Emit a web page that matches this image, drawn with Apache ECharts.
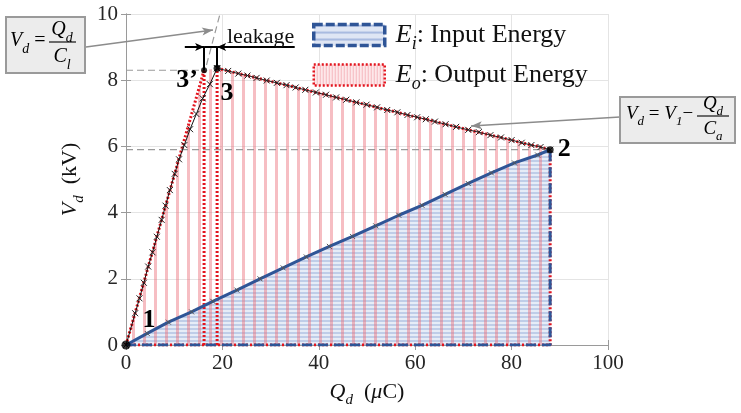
<!DOCTYPE html>
<html><head><meta charset="utf-8">
<script src="https://cdn.jsdelivr.net/npm/echarts@6/dist/echarts.min.js"></script>
<style>html,body{margin:0;padding:0;background:#fff}#c{width:741px;height:413px}</style>
</head><body><div id="c"></div>
<script>
// ---------------- data ----------------
const xTicks = [0, 20, 40, 60, 80, 100];
const yTicks = [0, 2, 4, 6, 8, 10];
// input-energy boundary (state 1 -> state 2)
const inputQ = [0, 4.4, 8.8, 13.6, 18.0, 23.0, 27.8, 32.6, 37.4, 42.2, 47.0, 51.8, 56.6, 61.4, 66.2, 71.0, 75.8, 80.6, 85.4, 88.0];
const inputV = [0, 0.35, 0.69, 1.0, 1.32, 1.66, 2.0, 2.33, 2.66, 2.98, 3.28, 3.6, 3.92, 4.22, 4.55, 4.88, 5.2, 5.5, 5.74, 5.9];
// charging curve with leakage (state 1 -> state 3)
const leakQ = [0, 1.9, 2.8, 3.7, 4.6, 5.5, 6.4, 7.4, 8.2, 9.1, 10.1, 11.0, 12.1, 13.3, 14.6, 15.9, 17.4, 18.9];
const leakV = [0, 0.96, 1.41, 1.88, 2.37, 2.8, 3.27, 3.78, 4.21, 4.68, 5.17, 5.61, 6.04, 6.52, 6.98, 7.45, 7.88, 8.36];
// ideal charging line (state 1 -> state 3')
const idealQ = [0, 16.2];
const idealV = [0, 8.3];
// discharge curve (state 3 -> state 2)
const topQ = [18.9, 21.2, 23.3, 25.2, 27.1, 29.2, 31.3, 33.3, 35.2, 37.2, 39.4, 41.5, 43.6, 45.7, 47.8, 49.9, 52.1, 54.2, 56.3, 58.4, 60.4, 62.2, 64.1, 66.3, 68.5, 71.0, 73.2, 75.6, 77.8, 80.0, 82.1, 84.1, 86.0, 88.0];
const topV = [8.36, 8.28, 8.20, 8.14, 8.07, 7.99, 7.92, 7.85, 7.78, 7.71, 7.63, 7.56, 7.48, 7.41, 7.33, 7.26, 7.18, 7.10, 7.03, 6.95, 6.88, 6.82, 6.75, 6.67, 6.59, 6.50, 6.43, 6.34, 6.27, 6.19, 6.11, 6.04, 5.98, 5.90];
// states
const stateNames = ['1', '3\u2019', '3', '2'];
const stateQ = [0, 16.2, 18.9, 88];
const stateV = [0, 8.3, 8.36, 5.9];
// leakage dimension line and extension of Vd = Qd/Cl
const leakArrowV = 9.0;
const leakArrowQ = [12.2, 35.0];
const extQ = [16.7, 19.5];
const extV = [8.46, 10];

// ---------------- styles ----------------
const FONT = 'Liberation Serif';
const RED = '#e3141e', BLUE = '#2f5597', GRAY = '#8c8c8c';
function pattern(w, h, draw) {
  const c = document.createElement('canvas'); c.width = w; c.height = h;
  draw(c.getContext('2d')); return { image: c, repeat: 'repeat' };
}
const bluePat = pattern(4, 4, g => { g.fillStyle = '#e6ecf7'; g.fillRect(0, 0, 4, 4); g.fillStyle = '#bfcde8'; g.fillRect(0, 0, 4, 2); });
const pinkPat = pattern(11, 4, g => { g.fillStyle = 'rgba(236,110,122,0.45)'; g.fillRect(0, 0, 3, 4); });
const legBlue = pattern(4, 7, g => { g.fillStyle = '#dfe6f4'; g.fillRect(0, 0, 4, 7); g.fillStyle = '#a9bbe0'; g.fillRect(0, 0, 4, 2); });
const legPink = pattern(3, 4, g => { g.fillStyle = '#fde8ea'; g.fillRect(0, 0, 3, 4); g.fillStyle = '#f6b9be'; g.fillRect(0, 0, 1, 4); });

const pts = (qs, vs) => qs.map((q, i) => [q, vs[i]]);
const cross = 'path://M0,0L10,10M10,0L0,10';
const richBase = (size) => ({
  i: { fontFamily: FONT, fontStyle: 'italic', fontSize: size, lineHeight: size + 10, color: '#111' },
  s: { fontFamily: FONT, fontStyle: 'italic', fontSize: Math.round(size * 0.68), verticalAlign: 'bottom', color: '#111' },
  n: { fontFamily: FONT, fontSize: size, lineHeight: size + 10, color: '#111' }
});

const outArea = [[stateQ[0], stateV[0]], [stateQ[1], stateV[1]]].concat(pts(topQ, topV));
const corner = [[stateQ[0], 0], [stateQ[3], 0], [stateQ[3], stateV[3]]];

const labelOffsets = [[23, -25], [-17, 10], [10, 25], [14, 0]];
const dotSizes = [9, 6, 7, 7];

const lineS = (data, color, width, type, z, extra) => Object.assign({
  type: 'line', data, symbol: 'none', silent: true, z,
  lineStyle: { color, width, type }, animation: false
}, extra || {});

const option = {
  animation: false,
  grid: { left: 126, top: 14, right: 133, bottom: 68, show: false },
  xAxis: [{
    type: 'value', min: xTicks[0], max: xTicks[xTicks.length - 1], interval: xTicks[1] - xTicks[0],
    axisLine: { show: true, lineStyle: { color: '#9a9a9a' } },
    axisTick: { show: true, inside: true, length: 5, lineStyle: { color: '#9a9a9a' } },
    axisLabel: { fontFamily: FONT, fontSize: 21, color: '#262626', margin: 8 },
    splitLine: { show: true, lineStyle: { color: '#e4e4e4' } },
    name: '{i|Q}{s|d}{n|  (}{i|\u03bc}{n|C)}', nameLocation: 'middle', nameGap: 31,
    nameTextStyle: { rich: richBase(22) }
  }, {
    type: 'value', position: 'top', min: xTicks[0], max: xTicks[xTicks.length - 1], interval: xTicks[1] - xTicks[0],
    axisLine: { show: true, lineStyle: { color: '#9a9a9a' } },
    axisTick: { show: true, inside: true, length: 5, lineStyle: { color: '#9a9a9a' } },
    axisLabel: { show: false }, splitLine: { show: false }
  }],
  yAxis: [{
    type: 'value', min: yTicks[0], max: yTicks[yTicks.length - 1], interval: yTicks[1] - yTicks[0],
    axisLine: { show: true, lineStyle: { color: '#9a9a9a' } },
    axisTick: { show: true, inside: true, length: 5, lineStyle: { color: '#9a9a9a' } },
    axisLabel: { fontFamily: FONT, fontSize: 21, color: '#262626', margin: 8 },
    splitLine: { show: true, lineStyle: { color: '#e4e4e4' } },
    name: '{i|V}{s|d}{n|  (kV)}', nameLocation: 'middle', nameGap: 33,
    nameTextStyle: { rich: richBase(22) }
  }, {
    type: 'value', position: 'right', min: yTicks[0], max: yTicks[yTicks.length - 1], interval: yTicks[1] - yTicks[0],
    axisLine: { show: true, lineStyle: { color: '#9a9a9a' } },
    axisTick: { show: true, inside: true, length: 5, lineStyle: { color: '#9a9a9a' } },
    axisLabel: { show: false }, splitLine: { show: false }
  }],
  legend: {
    orient: 'vertical', left: 312, top: 22, itemWidth: 71, itemHeight: 21, itemGap: 9, padding: 0,
    selectedMode: false,
    data: [
      { name: 'Ei', icon: 'rect', itemStyle: { color: legBlue, borderColor: BLUE, borderWidth: 3.5, borderType: [9, 3] } },
      { name: 'Eo', icon: 'rect', itemStyle: { color: legPink, borderColor: RED, borderWidth: 2.5, borderType: [2, 2] } }
    ],
    formatter: n => n === 'Ei' ? '{i|E}{s|i}{n|: Input Energy}' : '{i|E}{s|o}{n|: Output Energy}',
    textStyle: { padding: [0, 0, 0, 6], rich: richBase(26) }
  },
  series: [
    // energy areas
    lineS(pts(inputQ, inputV), BLUE, 0, 'solid', 1, { name: 'Ei', areaStyle: { color: bluePat, opacity: 1 } }),
    lineS(outArea, RED, 0, 'solid', 2, { name: 'Eo', areaStyle: { color: pinkPat, opacity: 1 } }),
    // guide dashed lines
    lineS([[0, stateV[1]], [stateQ[1], stateV[1]]], '#9a9a9a', 1.2, [7, 4], 3),
    lineS([[0, stateV[3]], [stateQ[3], stateV[3]]], '#9a9a9a', 1.2, [7, 4], 3),
    lineS(pts(extQ, extV), '#9a9a9a', 1.2, [7, 4], 3),
    // red dotted boundaries
    lineS([[stateQ[1], 0], [stateQ[1], stateV[1]]], RED, 3, [2, 2], 4),
    lineS([[stateQ[2], 0], [stateQ[2], stateV[2]]], RED, 3, [2, 2], 4),
    lineS(pts(idealQ, idealV), RED, 3, [2, 2], 4),
    lineS(pts(topQ, topV), RED, 3, [2, 2], 4),
    lineS(corner, RED, 3, [2, 2], 4),
    lineS(corner, BLUE, 3, [10, 6], 5),
    // measured curves with markers
    lineS(pts(inputQ, inputV), BLUE, 3, 'solid', 6, {}),
    lineS(pts(inputQ.slice(1, -1), inputV.slice(1, -1)), BLUE, 0, 'solid', 7,
      { symbol: cross, symbolSize: 5, showSymbol: true, itemStyle: { color: 'none', borderColor: '#555', borderWidth: 1 } }),
    lineS(pts(leakQ, leakV), '#111', 1, 'solid', 7,
      { symbol: cross, symbolSize: 6, showSymbol: true, itemStyle: { color: 'none', borderColor: '#222', borderWidth: 1 } }),
    lineS(pts(topQ, topV), '#222', 1, 'solid', 7,
      { symbol: cross, symbolSize: 6, showSymbol: true, itemStyle: { color: 'none', borderColor: '#222', borderWidth: 1 } }),
    // leakage dimension arrows
    lineS([], '#000', 2, 'solid', 8, {
      markLine: {
        silent: true, animation: false, symbol: ['none', 'arrow'], symbolSize: [6, 9],
        label: { show: false }, lineStyle: { color: '#000', width: 2, type: 'solid' },
        emphasis: { disabled: true },
        data: [
          [{ coord: [leakArrowQ[0], leakArrowV] }, { coord: [stateQ[1], leakArrowV] }],
          [{ coord: [leakArrowQ[1], leakArrowV] }, { coord: [stateQ[2], leakArrowV] }],
          [{ coord: [stateQ[1], leakArrowV], symbol: 'none' }, { coord: [stateQ[2], leakArrowV], symbol: 'none' }],
          [{ coord: [stateQ[1], stateV[1]], symbol: 'none' }, { coord: [stateQ[1], leakArrowV], symbol: 'none' }],
          [{ coord: [stateQ[2], stateV[2]], symbol: 'none' }, { coord: [stateQ[2], leakArrowV], symbol: 'none' }]
        ]
      }
    }),
    // annotation arrows from formula boxes
    lineS([], GRAY, 1.5, 'solid', 8, {
      markLine: {
        silent: true, animation: false, symbol: ['none', 'arrow'], symbolSize: [6, 11],
        label: { show: false }, lineStyle: { color: GRAY, width: 1.5, type: 'solid' },
        emphasis: { disabled: true },
        data: [
          [{ x: 86, y: 47 }, { x: 213, y: 30 }],
          [{ x: 620, y: 117 }, { x: 471, y: 126 }]
        ]
      }
    }),
    // states
    {
      type: 'scatter', z: 9, silent: true, animation: false,
      data: stateNames.map((n, i) => ({
        value: [stateQ[i], stateV[i]], name: n, symbolSize: dotSizes[i],
        label: { show: true, position: 'inside', offset: labelOffsets[i], formatter: n,
          fontFamily: FONT, fontWeight: 'bold', fontSize: 26, color: '#000',
          textBorderWidth: 0, opacity: 1 }
      })),
      itemStyle: { color: '#000' }
    }
  ],
  graphic: [
    // left box  Vd = Qd / Cl
    { type: 'rect', shape: { x: 6, y: 17, width: 79, height: 56 }, style: { fill: '#ececec', stroke: '#9a9a9a', lineWidth: 2 }, z: 10 },
    { type: 'text', x: 10, y: 41, z: 11, style: { text: '{i|V}{s|d}{n| =}', verticalAlign: 'middle', rich: richBase(20) } },
    { type: 'text', x: 62, y: 30, z: 11, style: { text: '{i|Q}{s|d}', align: 'center', verticalAlign: 'middle', rich: richBase(20) } },
    { type: 'line', shape: { x1: 49, y1: 42, x2: 76, y2: 42 }, style: { stroke: '#111', lineWidth: 1.2 }, z: 11 },
    { type: 'text', x: 62, y: 57, z: 11, style: { text: '{i|C}{s|l}', align: 'center', verticalAlign: 'middle', rich: richBase(20) } },
    // right box  Vd = V1 - Qd / Ca
    { type: 'rect', shape: { x: 620, y: 97, width: 115, height: 46 }, style: { fill: '#ececec', stroke: '#9a9a9a', lineWidth: 2 }, z: 10 },
    { type: 'text', x: 626, y: 114, z: 11, style: { text: '{i|V}{s|d}{n| =}{i| V}{s|1}{n|\u2212}', verticalAlign: 'middle', rich: richBase(19) } },
    { type: 'text', x: 713, y: 104, z: 11, style: { text: '{i|Q}{s|d}', align: 'center', verticalAlign: 'middle', rich: richBase(19) } },
    { type: 'line', shape: { x1: 697, y1: 116, x2: 729, y2: 116 }, style: { stroke: '#111', lineWidth: 1.2 }, z: 11 },
    { type: 'text', x: 713, y: 129, z: 11, style: { text: '{i|C}{s|a}', align: 'center', verticalAlign: 'middle', rich: richBase(19) } },
    // leakage label
    { type: 'text', x: 227, y: 37, z: 11, style: { text: 'leakage', fontFamily: FONT, fontSize: 22, fill: '#111', verticalAlign: 'middle' } }
  ]
};
const chart = echarts.init(document.getElementById('c'), null, { renderer: 'canvas' });
chart.setOption(option);
</script></body></html>
